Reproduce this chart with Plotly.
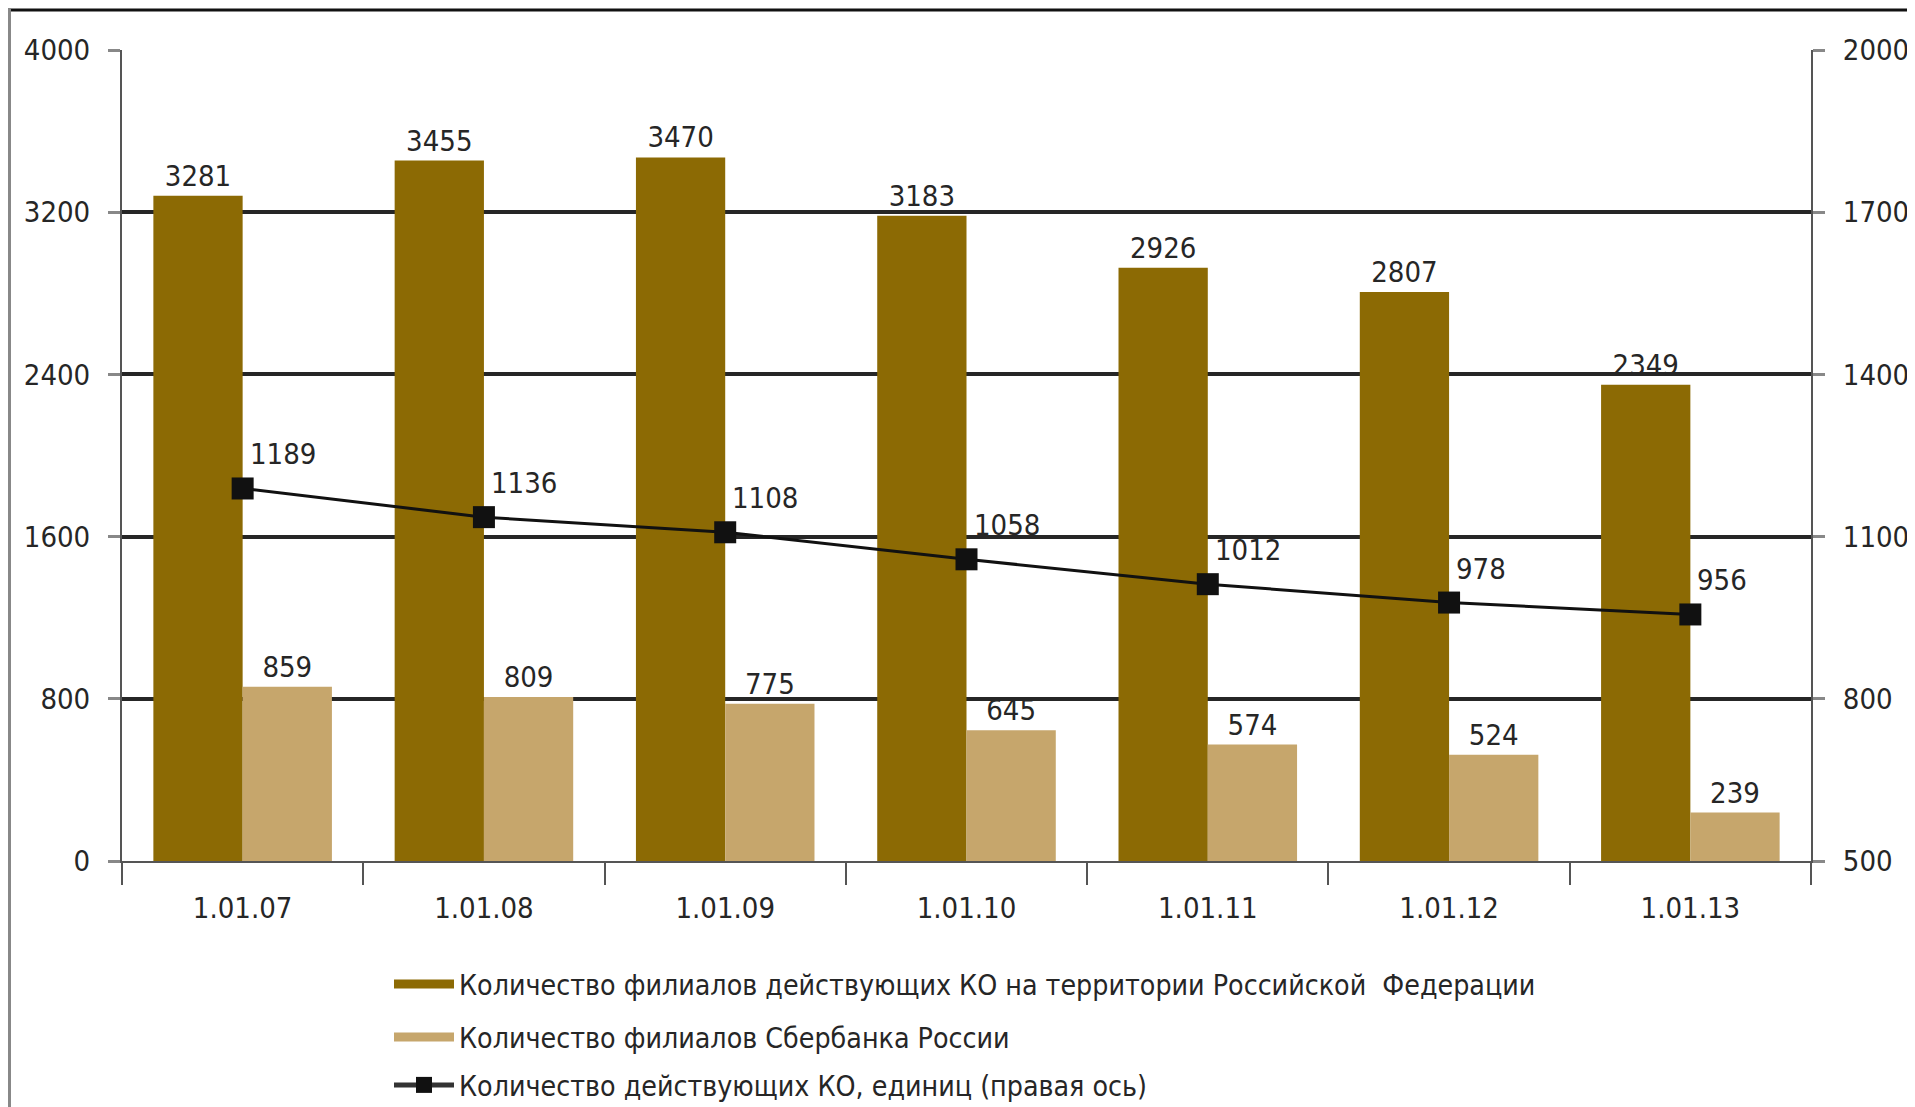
import plotly.graph_objects as go

categories = ["1.01.07", "1.01.08", "1.01.09", "1.01.10", "1.01.11", "1.01.12", "1.01.13"]
branches_total = [3281, 3455, 3470, 3183, 2926, 2807, 2349]
branches_sber = [859, 809, 775, 645, 574, 524, 239]
credit_orgs = [1189, 1136, 1108, 1058, 1012, 978, 956]

left_ticks = [0, 800, 1600, 2400, 3200, 4000]
right_ticks = [500, 800, 1100, 1400, 1700, 2000]

names = [
    "Количество филиалов действующих КО на территории Российской  Федерации",
    "Количество филиалов Сбербанка России",
    "Количество действующих КО, единиц (правая ось)",
]

DARK = "#8c6a04"
LIGHT = "#c6a66c"
FONT = "Liberation Sans Narrow, DejaVu Sans Condensed, sans-serif"
TXT = "#262626"
FS = 29

# page body has an 8px margin: figure origin sits at (8, 8) in the window
OFF = 8
W, H = 1915 - OFF, 1107 - OFF
# plot area in window pixels
L, R, T, B = 122, 1811, 50, 861
pw, ph = R - L, B - T


def px(x):
    return (x - L) / pw


def py(y):
    return (B - y) / ph


fig = go.Figure()

fig.add_trace(go.Bar(
    x=categories, y=branches_total, marker=dict(color=DARK, line=dict(width=0)),
    text=[str(v) for v in branches_total], textposition="outside",
    textfont=dict(family=FONT, size=FS, color=TXT), cliponaxis=False,
    constraintext="none", showlegend=False, name=names[0],
))
fig.add_trace(go.Bar(
    x=categories, y=branches_sber, marker=dict(color=LIGHT, line=dict(width=0)),
    text=[str(v) for v in branches_sber], textposition="outside",
    textfont=dict(family=FONT, size=FS, color=TXT), cliponaxis=False,
    constraintext="none", showlegend=False, name=names[1],
))
fig.add_trace(go.Scatter(
    x=categories, y=credit_orgs, yaxis="y2", mode="lines+markers",
    line=dict(color="#111111", width=3),
    marker=dict(symbol="square", size=22, color="#111111"),
    cliponaxis=False, showlegend=False, name=names[2],
))

annotations = [
    dict(x=c, y=v, xref="x", yref="y2", text=str(v), showarrow=False,
         xanchor="left", yanchor="bottom", xshift=5, yshift=15,
         font=dict(family=FONT, size=FS, color=TXT))
    for c, v in zip(categories, credit_orgs)
]

# legend entries
fig.add_trace(go.Scatter(x=[None], y=[None], mode="lines", line=dict(color=DARK, width=9),
                         name=names[0], legend="legend"))
fig.add_trace(go.Scatter(x=[None], y=[None], mode="lines", line=dict(color=LIGHT, width=9),
                         name=names[1], legend="legend2"))
fig.add_trace(go.Scatter(x=[None], y=[None], mode="lines+markers", line=dict(color="#333333", width=5),
                         marker=dict(symbol="square", size=16, color="#111111"),
                         name=names[2], legend="legend3"))

leg_common = dict(
    font=dict(family=FONT, size=28.3, color=TXT), bgcolor="rgba(0,0,0,0)",
    xanchor="left", yanchor="middle", itemwidth=60, x=px(389),
)

fig.update_layout(
    width=W, height=H,
    margin=dict(l=L - OFF, r=W - (R - OFF), t=T - OFF, b=H - (B - OFF), pad=0, autoexpand=False),
    paper_bgcolor="white", plot_bgcolor="white",
    barmode="group", bargap=0.26, bargroupgap=0,
    font=dict(family=FONT, size=FS, color=TXT),
    annotations=annotations,
    xaxis=dict(
        type="category", showline=True, linecolor="#555555", linewidth=2,
        ticks="outside", tickson="boundaries", ticklen=22, tickwidth=2, tickcolor="#555555",
        ticklabelstandoff=20,
        tickfont=dict(family=FONT, size=FS, color=TXT), showgrid=False, zeroline=False,
    ),
    yaxis=dict(
        range=[0, 4000], tickvals=left_ticks, showline=True, linecolor="#555555", linewidth=2,
        ticks="outside", ticklen=12, tickwidth=3, tickcolor="#888888", ticklabelstandoff=12,
        showgrid=True, gridcolor="#262626", gridwidth=3.5, zeroline=False,
        tickfont=dict(family=FONT, size=FS, color=TXT),
    ),
    yaxis2=dict(
        range=[500, 2000], tickvals=right_ticks, overlaying="y", side="right",
        showline=True, linecolor="#555555", linewidth=2,
        ticks="outside", ticklen=12, tickwidth=3, tickcolor="#888888", ticklabelstandoff=12,
        showgrid=False, zeroline=False,
        tickfont=dict(family=FONT, size=FS, color=TXT),
    ),
    legend=dict(leg_common, y=py(984)),
    legend2=dict(leg_common, y=py(1037)),
    legend3=dict(leg_common, y=py(1085)),
    shapes=[
        dict(type="line", xref="paper", yref="paper", x0=px(OFF), x1=px(1915), y0=py(10), y1=py(10),
             line=dict(color="#111111", width=3)),
        dict(type="line", xref="paper", yref="paper", x0=px(OFF + 1.5), x1=px(OFF + 1.5),
             y0=py(9), y1=py(1107), line=dict(color="#888888", width=3)),
    ],
)

fig.write_html("out.html")
